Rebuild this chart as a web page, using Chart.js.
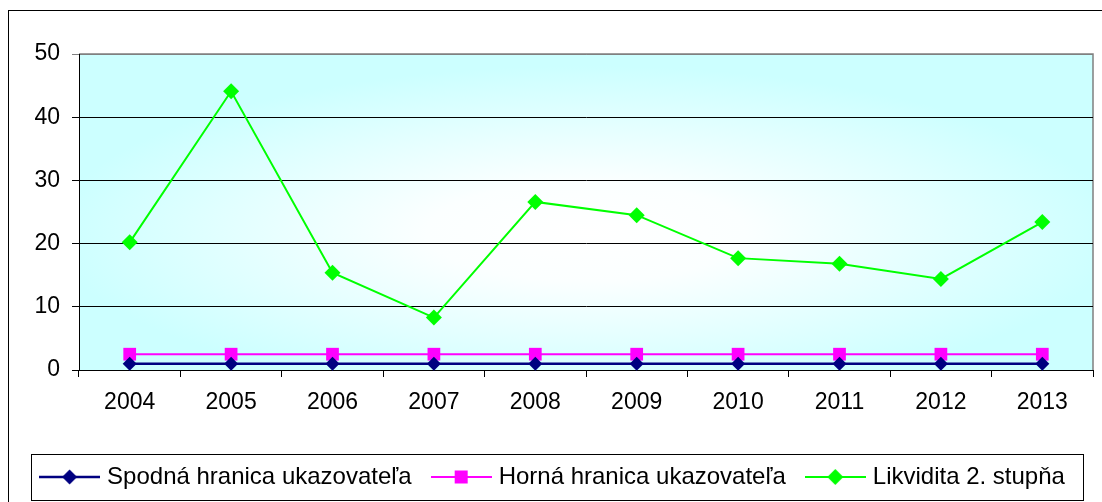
<!DOCTYPE html>
<html>
<head>
<meta charset="utf-8">
<script src="https://cdn.jsdelivr.net/npm/chart.js@4.4.1/dist/chart.umd.min.js"></script>
<style>
  html, body { margin: 0; padding: 0; background: #fff; }
  canvas { display: block; }
</style>
</head>
<body>
<canvas id="graf" width="1102" height="502"></canvas>
<script>
// udaje z grafu
const roky = ['2004', '2005', '2006', '2007', '2008', '2009', '2010', '2011', '2012', '2013'];
const spodnaHranica = [1, 1, 1, 1, 1, 1, 1, 1, 1, 1];
const hornaHranica = [2.5, 2.5, 2.5, 2.5, 2.5, 2.5, 2.5, 2.5, 2.5, 2.5];
const likvidita2 = [20.2, 44.1, 15.4, 8.3, 26.6, 24.5, 17.7, 16.8, 14.4, 23.4];
const osY = [0, 10, 20, 30, 40, 50];

const nazvy = ['Spodná hranica ukazovateľa', 'Horná hranica ukazovateľa', 'Likvidita 2. stupňa'];

Chart.defaults.font.family = '"Liberation Sans", Arial, sans-serif';
Chart.defaults.color = '#000';

// znacka do legendy: ciara + bod
function znacka(farba, tvar, r, hrubka) {
  const c = document.createElement('canvas');
  c.width = 61;
  c.height = 20;
  const g = c.getContext('2d');
  g.strokeStyle = farba;
  g.lineWidth = hrubka;
  g.beginPath();
  g.moveTo(0, 10);
  g.lineTo(61, 10);
  g.stroke();
  g.fillStyle = farba;
  g.beginPath();
  if (tvar === 'rect') {
    g.rect(30.5 - r, 10 - r, 2 * r, 2 * r);
  } else {
    g.moveTo(30.5, 10 - r);
    g.lineTo(30.5 + r, 10);
    g.lineTo(30.5, 10 + r);
    g.lineTo(30.5 - r, 10);
    g.closePath();
  }
  g.fill();
  return c;
}

const symboly = [
  znacka('#000080', 'diamond', 7.5, 2.5),
  znacka('#ff00ff', 'rect', 6.5, 2),
  znacka('#00ff00', 'diamond', 8, 2)
];

// pozadie, ram a prechod v ploche grafu
const pozadie = {
  id: 'pozadie',
  beforeDraw(chart) {
    const {ctx, chartArea: a} = chart;
    ctx.save();
    ctx.fillStyle = '#fff';
    ctx.fillRect(0, 0, chart.width, chart.height);
    ctx.strokeStyle = '#000';
    ctx.lineWidth = 1;
    ctx.strokeRect(8.5, 10.5, chart.width, chart.height);

    const cx = (a.left + a.right) / 2;
    const cy = (a.top + a.bottom) / 2 + 20;
    const rx = a.width / 2, ry = a.height / 2;
    const k = rx / ry;
    ctx.translate(cx, cy);
    ctx.scale(k, 1);
    const g = ctx.createRadialGradient(0, 0, 0, 0, 0, ry * 1.05);
    g.addColorStop(0, '#ffffff');
    g.addColorStop(0.3, '#fbffff');
    g.addColorStop(1, '#ccffff');
    ctx.fillStyle = g;
    ctx.fillRect((a.left - cx) / k, a.top - cy, a.width / k, a.height);
    ctx.restore();

    ctx.save();
    ctx.strokeStyle = '#808080';
    ctx.lineWidth = 1.5;
    ctx.beginPath();
    ctx.moveTo(a.left, a.top);
    ctx.lineTo(a.right, a.top);
    ctx.lineTo(a.right, a.bottom);
    ctx.stroke();
    ctx.restore();
  }
};

// ram okolo legendy
const ramLegendy = {
  id: 'ramLegendy',
  afterDraw(chart) {
    const boxes = chart.legend.legendHitBoxes;
    if (!boxes || !boxes.length) return;
    const prvy = boxes[0], posl = boxes[boxes.length - 1];
    const stred = prvy.top + prvy.height / 2;
    const x0 = Math.round(prvy.left - 13) + 0.5;
    const x1 = Math.round(posl.left + posl.width + 18) + 0.5;
    const y0 = Math.round(stred - 23) + 0.5;
    const y1 = Math.round(stred + 23) + 0.5;
    const ctx = chart.ctx;
    ctx.save();
    ctx.strokeStyle = '#000';
    ctx.lineWidth = 1;
    ctx.strokeRect(x0, y0, x1 - x0, y1 - y0);
    ctx.restore();
  }
};

new Chart(document.getElementById('graf'), {
  type: 'line',
  data: {
    labels: roky,
    datasets: [
      {
        label: nazvy[0],
        data: spodnaHranica,
        borderColor: '#000080',
        backgroundColor: '#000080',
        borderWidth: 2.5,
        pointStyle: 'rectRot',
        pointRadius: 7,
        pointBorderWidth: 0,
        clip: false
      },
      {
        label: nazvy[1],
        data: hornaHranica,
        borderColor: '#ff00ff',
        backgroundColor: '#ff00ff',
        borderWidth: 2,
        pointStyle: 'rect',
        pointRadius: 9,
        pointBorderWidth: 0,
        clip: false
      },
      {
        label: nazvy[2],
        data: likvidita2,
        borderColor: '#00ff00',
        backgroundColor: '#00ff00',
        borderWidth: 2,
        pointStyle: 'rectRot',
        pointRadius: 8,
        pointBorderWidth: 0,
        clip: false
      }
    ]
  },
  options: {
    responsive: false,
    animation: false,
    devicePixelRatio: 1,
    layout: {
      padding: {left: 12, right: 5, top: 54, bottom: 3}
    },
    scales: {
      x: {
        offset: true,
        grid: {offset: true, drawOnChartArea: false, tickLength: 7, color: '#000'},
        border: {color: '#000', width: 1},
        ticks: {padding: 12, font: {size: 23}, maxRotation: 0},
        afterFit(s) { s.height = 71; }
      },
      y: {
        min: osY[0],
        max: osY[osY.length - 1],
        ticks: {stepSize: osY[1] - osY[0], padding: 12, font: {size: 23}},
        grid: {
          tickLength: 7,
          color: c => (c.tick && c.tick.value === osY[osY.length - 1]) ? '#808080' : '#000'
        },
        border: {color: '#000', width: 1},
        afterFit(s) { s.width = 67; }
      }
    },
    plugins: {
      title: {display: false},
      tooltip: {enabled: false},
      legend: {
        position: 'bottom',
        labels: {
          usePointStyle: true,
          pointStyleWidth: 51,
          padding: 24,
          font: {size: 24},
          color: '#000',
          generateLabels(chart) {
            const items = Chart.defaults.plugins.legend.labels.generateLabels(chart);
            items.forEach((it, i) => { it.pointStyle = symboly[i]; });
            return items;
          }
        }
      }
    }
  },
  plugins: [pozadie, ramLegendy]
});
</script>
</body>
</html>
